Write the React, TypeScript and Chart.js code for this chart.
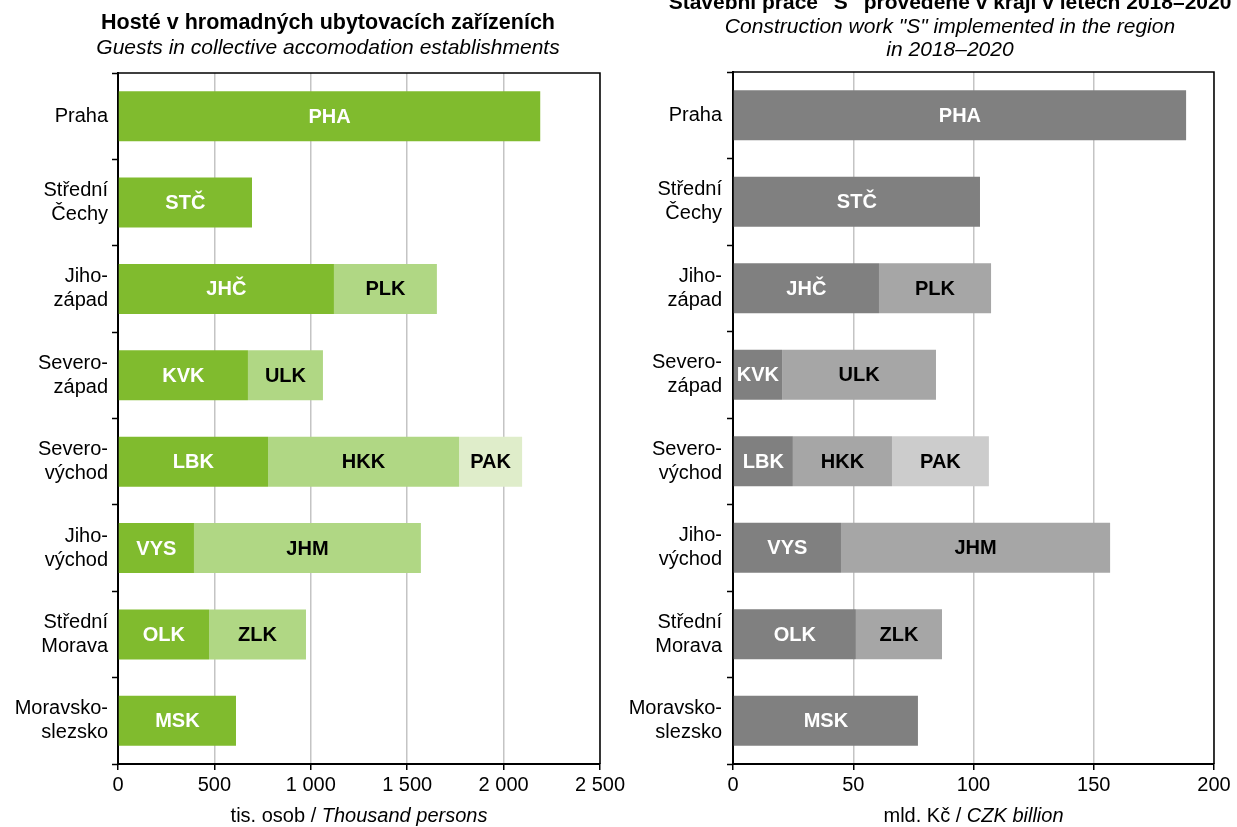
import React, { useEffect, useRef } from "react";
import { Chart, registerables } from "chart.js";

Chart.register(...registerables);

const FONT = '"Liberation Sans", Arial, Helvetica, sans-serif';

// Categories (shared)
const regions: (string | string[])[] = [
  "Praha",
  ["Střední", "Čechy"],
  ["Jiho-", "západ"],
  ["Severo-", "západ"],
  ["Severo-", "východ"],
  ["Jiho-", "východ"],
  ["Střední", "Morava"],
  ["Moravsko-", "slezsko"],
];

// Segment labels (kraje)
const seg1Labels = ["PHA", "STČ", "JHČ", "KVK", "LBK", "VYS", "OLK", "MSK"];
const seg2Labels = ["", "", "PLK", "ULK", "HKK", "JHM", "ZLK", ""];
const seg3Labels = ["", "", "", "", "PAK", "", "", ""];

// Left: guests, thousand persons
const guestsSeg1 = [2190, 695, 1120, 674, 778, 394, 472, 612];
const guestsSeg2 = [null, null, 534, 389, 991, 1177, 503, null];
const guestsSeg3 = [null, null, null, null, 327, null, null, null];
const guestsTicks = { min: 0, max: 2500, step: 500 };

// Right: construction work, CZK billion
const constrSeg1 = [188.4, 102.7, 60.7, 20.4, 24.9, 44.9, 51.1, 76.9];
const constrSeg2 = [null, null, 46.6, 64.0, 41.2, 111.9, 35.8, null];
const constrSeg3 = [null, null, null, null, 40.3, null, null, null];
const constrTicks = { min: 0, max: 200, step: 50 };

type TitleLine = { text: string; font: string; y: number };

type PanelProps = {
  width: number;
  height: number;
  left: number;
  yAxisWidth: number;
  padTop: number;
  padRight: number;
  colors: string[];
  seg: (number | null)[][];
  ticks: { min: number; max: number; step: number };
  titles: TitleLine[];
  titleX: number;
  axisTitle: [string, string];
  labelPadding: number;
};

function fmt(v: number) {
  return String(v).replace(/\B(?=(\d{3})+(?!\d))/g, " ");
}

function Panel(p: PanelProps) {
  const ref = useRef<HTMLCanvasElement | null>(null);
  useEffect(() => {
    if (!ref.current) return;
    const labelsPerSeg = [seg1Labels, seg2Labels, seg3Labels];
    const labelColors = ["#ffffff", "#000000", "#000000"];

    const segLabelPlugin = {
      id: "segLabels",
      afterDatasetsDraw(chart: any) {
        const ctx = chart.ctx;
        chart.data.datasets.forEach((ds: any, di: number) => {
          const meta = chart.getDatasetMeta(di);
          meta.data.forEach((el: any, i: number) => {
            const text = labelsPerSeg[di][i];
            const v = ds.data[i];
            if (!text || v == null) return;
            const { x, base, y } = el.getProps(["x", "base", "y"], true);
            ctx.save();
            ctx.font = `bold 20px ${FONT}`;
            ctx.fillStyle = labelColors[di];
            ctx.textAlign = "center";
            ctx.textBaseline = "middle";
            ctx.fillText(text, (x + base) / 2, y + 1);
            ctx.restore();
          });
        });
      },
    };

    const decoPlugin = {
      id: "deco",
      afterDraw(chart: any) {
        const ctx = chart.ctx;
        const a = chart.chartArea;
        ctx.save();
        // frame top & right
        ctx.strokeStyle = "#000";
        ctx.lineWidth = 1.5;
        ctx.beginPath();
        ctx.moveTo(a.left, a.top);
        ctx.lineTo(a.right, a.top);
        ctx.lineTo(a.right, a.bottom);
        ctx.stroke();
        // titles
        ctx.fillStyle = "#000";
        ctx.textAlign = "center";
        ctx.textBaseline = "middle";
        p.titles.forEach((t) => {
          ctx.font = t.font;
          ctx.fillText(t.text, p.titleX, t.y);
        });
        // x axis title: normal + italic
        const [a1, a2] = p.axisTitle;
        const fN = `20px ${FONT}`;
        const fI = `italic 20px ${FONT}`;
        ctx.font = fN;
        const w1 = ctx.measureText(a1).width;
        ctx.font = fI;
        const w2 = ctx.measureText(a2).width;
        const cx = (a.left + a.right) / 2;
        const x0 = cx - (w1 + w2) / 2;
        ctx.textAlign = "left";
        ctx.font = fN;
        ctx.fillText(a1, x0, 816);
        ctx.font = fI;
        ctx.fillText(a2, x0 + w1, 816);
        ctx.restore();
      },
    };

    const chart = new Chart(ref.current, {
      type: "bar",
      data: {
        labels: regions,
        datasets: p.seg.map((d, i) => ({
          data: d,
          backgroundColor: p.colors[i],
          borderWidth: 0,
          barPercentage: 0.58,
          categoryPercentage: 1,
        })),
      } as any,
      options: {
        indexAxis: "y",
        responsive: false,
        animation: false,
        layout: { padding: { top: p.padTop, right: p.padRight, left: 0, bottom: 0 } },
        plugins: {
          legend: { display: false },
          tooltip: { enabled: false },
          title: { display: false },
        },
        scales: {
          x: {
            stacked: true,
            min: p.ticks.min,
            max: p.ticks.max,
            ticks: {
              stepSize: p.ticks.step,
              color: "#000",
              font: { family: FONT, size: 20 },
              padding: 3,
              maxRotation: 0,
              callback: (v: any) => fmt(Number(v)),
            },
            grid: {
              color: "#c4c4c4",
              lineWidth: 1.5,
              tickColor: "#000",
              tickLength: 6,
              tickWidth: 1.5,
            },
            border: { display: true, color: "#000", width: 2 },
            afterFit: (s: any) => {
              s.height = 63;
              s.paddingLeft = 0;
              s.paddingRight = 0;
            },
          },
          y: {
            stacked: true,
            ticks: {
              color: "#000",
              font: { family: FONT, size: 20, lineHeight: 1.2 },
              padding: p.labelPadding,
              autoSkip: false,
            },
            grid: {
              drawOnChartArea: false,
              drawTicks: true,
              tickLength: 6,
              color: "#000",
              tickColor: "#000",
              tickWidth: 1.5,
              offset: true,
            },
            border: { display: true, color: "#000", width: 2 },
            afterFit: (s: any) => {
              s.width = p.yAxisWidth;
              s.paddingTop = 0;
              s.paddingBottom = 0;
            },
          },
        },
      } as any,
      plugins: [segLabelPlugin, decoPlugin],
    });
    return () => chart.destroy();
  }, []);
  return (
    <canvas
      ref={ref}
      width={p.width}
      height={p.height}
      style={{ position: "absolute", left: p.left, top: 0, width: p.width, height: p.height }}
    />
  );
}

export default function App() {
  return (
    <div
      style={{
        position: "fixed",
        left: 0,
        top: 0,
        width: 1237,
        height: 827,
        background: "#fff",
        overflow: "hidden",
      }}
    >
      <Panel
        width={640}
        height={827}
        left={0}
        yAxisWidth={118}
        padTop={73}
        padRight={40}
        colors={["#80bb2e", "#b0d784", "#dfedca"]}
        seg={[guestsSeg1, guestsSeg2, guestsSeg3]}
        ticks={guestsTicks}
        titleX={328}
        titles={[
          { text: "Hosté v hromadných ubytovacích zařízeních", font: `bold 21.5px ${FONT}`, y: 23 },
          { text: "Guests in collective accomodation establishments", font: `italic 21px ${FONT}`, y: 48 },
        ]}
        axisTitle={["tis. osob / ", "Thousand persons"]}
        labelPadding={4}
      />
      <Panel
        width={617}
        height={827}
        left={620}
        yAxisWidth={113}
        padTop={72}
        padRight={23}
        colors={["#808080", "#a6a6a6", "#cccccc"]}
        seg={[constrSeg1, constrSeg2, constrSeg3]}
        ticks={constrTicks}
        titleX={330}
        titles={[
          { text: "Stavební práce \"S\" provedené v kraji v letech 2018–2020", font: `bold 21px ${FONT}`, y: 3 },
          { text: "Construction work \"S\" implemented in the region", font: `italic 21px ${FONT}`, y: 27 },
          { text: "in 2018–2020", font: `italic 21px ${FONT}`, y: 50 },
        ]}
        axisTitle={["mld. Kč / ", "CZK billion"]}
        labelPadding={5}
      />
    </div>
  );
}
